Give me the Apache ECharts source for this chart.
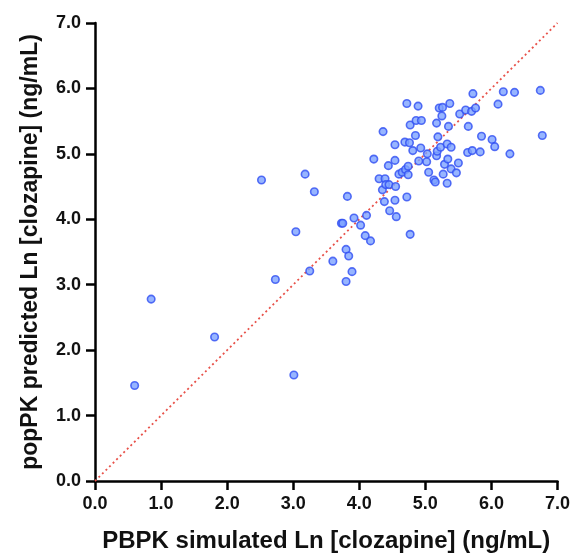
<!DOCTYPE html>
<html>
<head>
<meta charset="utf-8">
<script src="https://cdn.jsdelivr.net/npm/echarts@6/dist/echarts.min.js"></script>
<style>html,body{margin:0;padding:0;background:#fff;}#c{width:573px;height:558px;}</style>
</head>
<body>
<div id="c"></div>
<script>
var pbpkSim = [0.60,0.85,1.81,2.52,2.73,3.01,3.04,3.18,3.25,3.32,3.60,3.73,3.75,3.80,3.84,3.89,3.80,3.82,3.92,4.02,4.09,4.11,4.17,4.22,4.30,4.39,4.35,4.40,4.45,4.55,4.38,4.54,4.46,4.56,4.72,4.77,4.44,4.54,4.36,4.54,4.60,4.65,4.70,4.74,4.74,4.69,4.76,4.81,4.72,4.89,4.77,4.86,4.94,4.85,4.90,4.93,5.03,5.02,5.05,5.13,5.15,5.17,5.18,5.19,5.17,5.23,5.21,5.26,5.25,5.27,5.29,5.33,5.33,5.34,5.35,5.37,5.39,5.39,5.47,5.50,5.52,5.61,5.64,5.65,5.70,5.71,5.72,5.76,5.83,5.85,6.01,6.05,6.10,6.18,6.28,6.35,6.74,6.77];
var popPkPred = [1.46,2.78,2.20,4.60,3.08,1.62,3.81,4.69,3.21,4.42,3.36,3.94,3.94,3.54,3.44,3.20,3.05,4.35,4.02,3.91,3.75,4.06,3.67,4.92,4.62,4.62,4.45,4.53,4.53,4.50,4.27,4.29,4.13,4.04,4.34,3.77,4.82,4.90,5.34,5.14,4.69,4.72,4.76,4.68,4.81,5.18,5.17,5.05,5.77,5.73,5.44,5.51,5.51,5.28,4.89,5.09,5.00,4.88,4.72,4.60,4.57,4.97,5.04,5.26,5.47,5.10,5.70,5.71,5.58,4.69,4.84,4.55,5.15,4.92,5.42,5.77,5.10,4.77,4.71,4.86,5.61,5.67,5.02,5.42,5.65,5.05,5.92,5.70,5.03,5.27,5.22,5.11,5.76,5.95,5.00,5.94,5.97,5.28];
var identityLine = [0, 7];
var tickLabels = ["0.0","1.0","2.0","3.0","4.0","5.0","6.0","7.0"];
var xTitle = "PBPK simulated Ln [clozapine] (ng/mL)";
var yTitle = "popPK predicted Ln [clozapine] (ng/mL)";

var points = pbpkSim.map(function(x, i){ return [x, popPkPred[i]]; });
var linePts = identityLine.map(function(v){ return [v, v]; });

var font = "Liberation Sans, Arial, sans-serif";
function axisCommon(name, gap, nameSize){
  return {
    type: 'value', min: 0, max: 7, interval: 1,
    name: name, nameLocation: 'middle', nameGap: gap,
    nameTextStyle: {fontFamily: font, fontWeight: 'bold', fontSize: nameSize, color: '#111'},
    axisLine: {show: true, onZero: false, lineStyle: {color: '#000', width: 2.5}},
    axisTick: {show: true, length: 9, lineStyle: {color: '#000', width: 2.5}},
    axisLabel: {margin: 14, fontFamily: font, fontWeight: 'bold', fontSize: 18, color: '#111',
      formatter: function(v){ return tickLabels[Math.round(v)]; }},
    splitLine: {show: false}
  };
}
var chart = echarts.init(document.getElementById('c'), null, {renderer: 'canvas'});
chart.setOption({
  animation: false,
  backgroundColor: '#fff',
  grid: {left: 95, right: 15, top: 23, bottom: 76.5, containLabel: false},
  xAxis: axisCommon(xTitle, 48, 24),
  yAxis: axisCommon(yTitle, 53, 23),
  series: [
    {type: 'line', data: linePts, symbol: 'none', z: 1,
     lineStyle: {color: '#e8524a', width: 1.8, type: [2, 3]}},
    {type: 'scatter', data: points, symbol: 'circle', symbolSize: 7.5, z: 3,
     itemStyle: {color: '#7da3ff', borderColor: '#2f4df2', borderWidth: 1.6}}
  ]
});
</script>
</body>
</html>
